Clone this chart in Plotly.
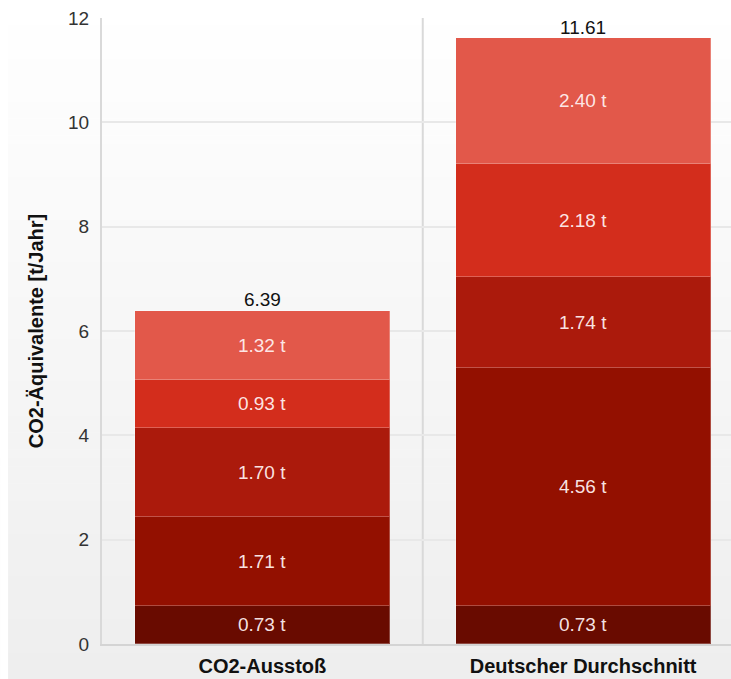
import plotly.graph_objects as go

# Data
categories = ["CO2-Ausstoß", "Deutscher Durchschnitt"]
seg1 = [0.73, 0.73]
seg2 = [1.71, 4.56]
seg3 = [1.70, 1.74]
seg4 = [0.93, 2.18]
seg5 = [1.32, 2.40]
totals = [6.39, 11.61]
y_ticks = [0, 2, 4, 6, 8, 10, 12]

segments = [seg1, seg2, seg3, seg4, seg5]
colors = ["#690b00", "#931000", "#ab1a0c", "#d32d1c", "#e2584a"]
xpos = [0, 1]
FONT = "Liberation Sans, Arial, sans-serif"

fig = go.Figure()

for vals, col in zip(segments, colors):
    fig.add_trace(go.Bar(
        x=xpos, y=vals, width=0.795,
        marker=dict(color=col, line=dict(color="rgba(255,255,255,0.25)", width=1)),
        text=[f"{v:.2f} t" for v in vals],
        textposition="inside", insidetextanchor="middle",
        constraintext="none",
        textfont=dict(family=FONT, size=19, color="rgba(255,240,240,0.95)"),
        hoverinfo="skip", showlegend=False,
    ))

# Totals above each stack
fig.add_trace(go.Scatter(
    x=xpos, y=totals, mode="text",
    text=[f"{t:.2f}" for t in totals], textposition="top center",
    textfont=dict(family=FONT, size=19, color="#111"),
    hoverinfo="skip", showlegend=False, cliponaxis=False,
))

# Background: vertical white-to-grey gradient built from thin bands
shapes = []
n = 80
for i in range(n):
    t = i / (n - 1)
    g = int(round(255 - t * (255 - 238)))
    shapes.append(dict(
        type="rect", xref="paper", yref="paper", layer="below",
        x0=-1, x1=2,
        y0=1 + 18 / 626 - (i + 1) * (679 / 626) / n,
        y1=1 + 18 / 626 - i * (679 / 626) / n + 0.001,
        fillcolor=f"rgb({g},{g},{g})", line=dict(width=0),
    ))
# White strip on the left edge
shapes.append(dict(type="rect", xref="paper", yref="paper", layer="below",
                   x0=-102 / 629.5, x1=-94 / 629.5, y0=-1, y1=2,
                   fillcolor="white", line=dict(width=0)))
# Divider between the two categories
shapes.append(dict(type="line", xref="x", yref="y", layer="below",
                   x0=0.5, x1=0.5, y0=0, y1=12,
                   line=dict(color="#d9d9d9", width=2)))

fig.update_layout(
    width=731, height=679,
    margin=dict(l=102, r=0, t=18, b=35),
    paper_bgcolor="white", plot_bgcolor="rgba(0,0,0,0)",
    barmode="stack", bargap=0,
    shapes=shapes,
    font=dict(family=FONT, color="#222"),
    xaxis=dict(
        range=[-0.5, 1.461], tickvals=xpos,
        ticktext=[f"<b>{c}</b>" for c in categories],
        tickfont=dict(size=20, color="#111"),
        showgrid=False, zeroline=False,
        showline=True, linecolor="#d4d4d4", linewidth=2,
        ticks="", ticklabelstandoff=3,
    ),
    yaxis=dict(
        range=[0, 12], tickvals=y_ticks,
        tickfont=dict(size=19, color="#333"),
        showgrid=True, gridcolor="#e8e8e8", gridwidth=2,
        zeroline=False, showline=True, linecolor="#d9d9d9", linewidth=2,
        ticks="", ticklabelstandoff=7,
        title=dict(text="<b>CO2-Äquivalente [t/Jahr]</b>",
                   font=dict(size=20, color="#111"), standoff=19),
    ),
)

fig.write_html("out.html")
